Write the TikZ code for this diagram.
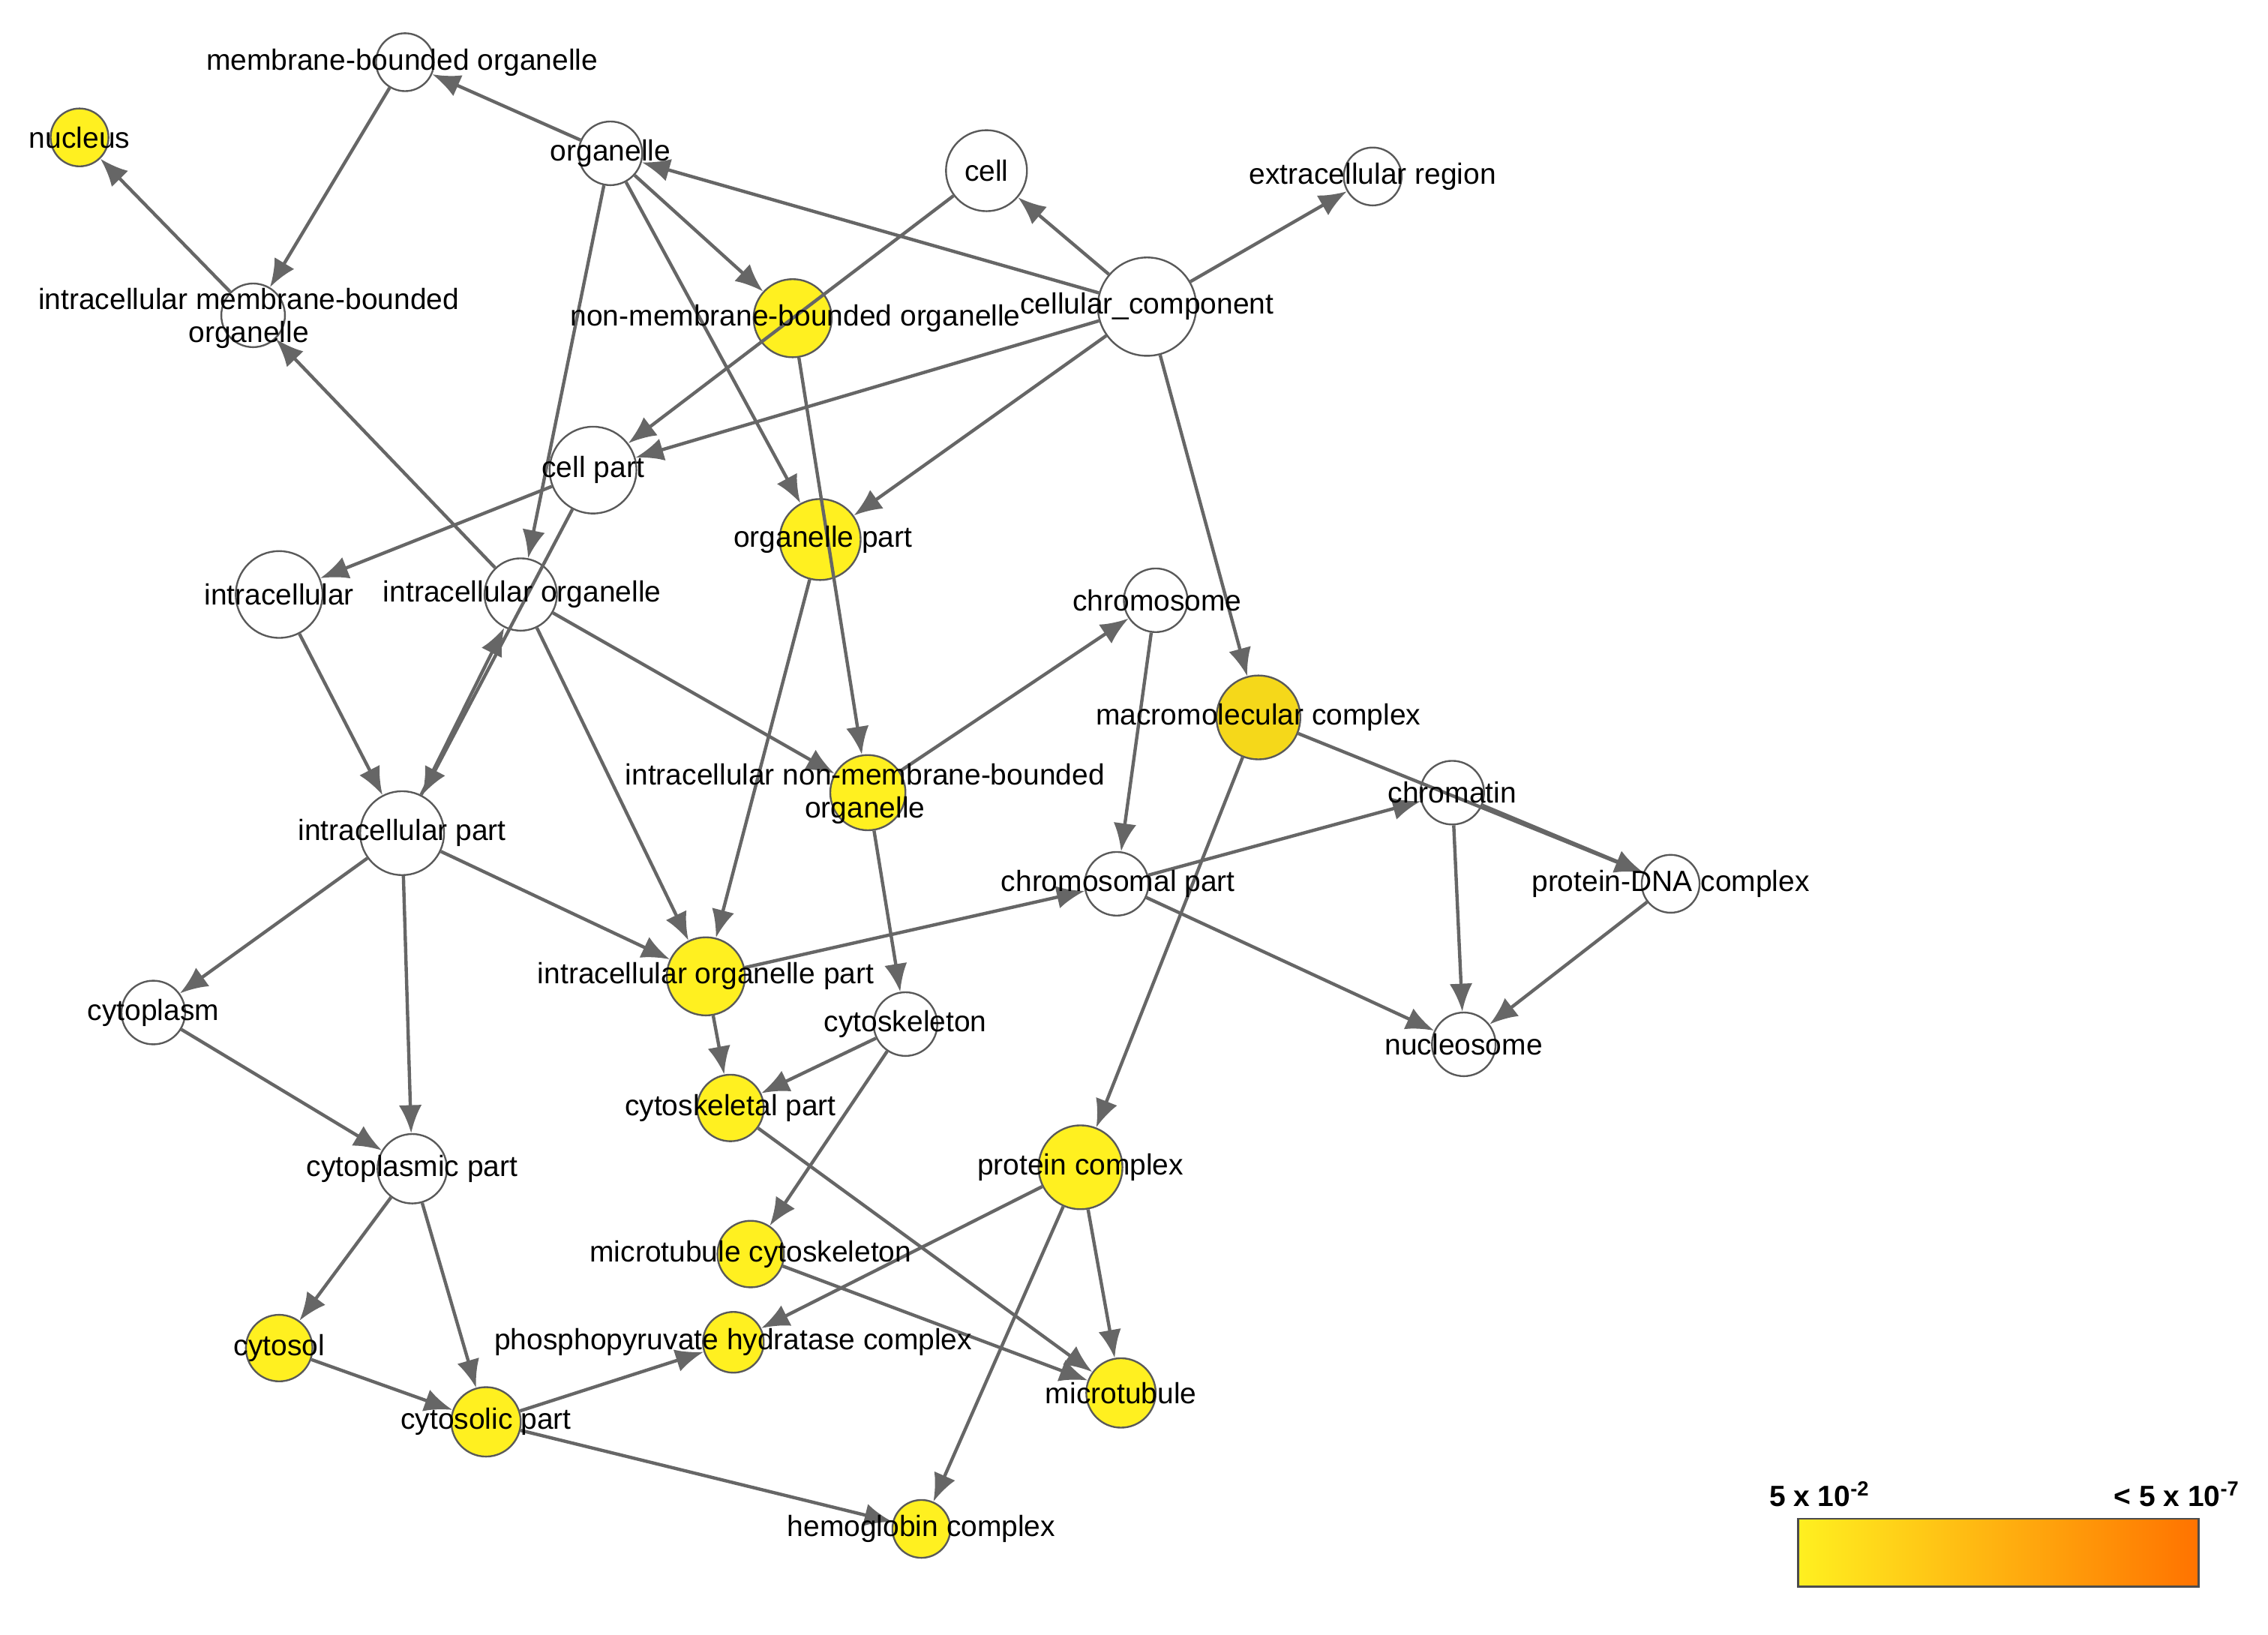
\documentclass[tikz,border=0pt]{standalone}
\usepackage{fontspec}
\setmainfont{Liberation Sans}
\usetikzlibrary{arrows.meta}
\definecolor{yel}{HTML}{FFF020}
\definecolor{yel2}{HTML}{F5D81A}
\definecolor{edg}{HTML}{666666}
\tikzset{
 cw/.style={circle,draw=black!65,line width=0.7pt,fill=white,inner sep=0pt},
 cy/.style={cw,fill=yel},
 lab/.style={font=\fontsize{11.5}{13}\selectfont,inner sep=0pt,align=center},
 e/.style={draw=edg,line width=1.3pt,-{Latex[length=11pt,width=9pt]}},
}
\newcommand{\cn}[5]{\node[#1,minimum size=#5*0.4mm] (#2) at (#3,#4) {};}
\begin{document}
\begin{tikzpicture}[x=0.2mm,y=-0.2mm]
\path[use as bounding box] (0,0) rectangle (1568,1130);
\cn{cw}{mbo}{280}{43}{20}
\cn{cy}{nuc}{55}{95}{20}
\cn{cw}{org}{422}{106}{22}
\cn{cw}{cell}{682}{118}{28}
\cn{cw}{ext}{949}{122}{20}
\cn{cw}{imbo}{175}{218}{22}
\cn{cy}{nmbo}{548}{220}{27}
\cn{cw}{cc}{793}{212}{34}
\cn{cw}{cp}{410}{325}{30}
\cn{cy}{op}{567}{373}{28}
\cn{cw}{ic}{193}{411}{30}
\cn{cw}{io}{360}{411}{25}
\cn{cw}{chr}{799}{415}{22}
\node[cw,fill=yel2,minimum size=11.6mm] (mac) at (870,496) {};
\cn{cy}{inmbo}{600}{548}{26}
\cn{cw}{chrm}{1004}{548}{22}
\cn{cw}{ip}{278}{576}{29}
\cn{cw}{chp}{772}{611}{22}
\cn{cw}{pdna}{1155}{611}{20}
\cn{cy}{iop}{488}{675}{27}
\cn{cw}{cyt}{106}{700}{22}
\cn{cw}{csk}{626}{708}{22}
\cn{cw}{nuco}{1012}{722}{22}
\cn{cy}{cskp}{505}{766}{23}
\cn{cy}{pc}{747}{807}{29}
\cn{cw}{cytp}{285}{808}{24}
\cn{cy}{mtc}{519}{867}{23}
\cn{cy}{cysl}{193}{932}{23}
\cn{cy}{phc}{507}{928}{21}
\cn{cy}{mt}{775}{963}{24}
\cn{cy}{cslp}{336}{983}{24}
\cn{cy}{hem}{637}{1057}{20}
% edges
\foreach \a/\b in {org/mbo,mbo/imbo,imbo/nuc,org/nmbo,org/op,org/io,cc/org,cc/cell,cc/ext,cc/cp,cc/op,cc/mac,
 cell/cp,nmbo/inmbo,io/imbo,cp/ic,cp/ip,ip/io,ic/ip,io/inmbo,io/iop,op/iop,inmbo/chr,inmbo/csk,
 ip/cyt,ip/cytp,ip/iop,chr/chp,iop/chp,chp/chrm,chp/nuco,mac/pdna,chrm/pdna,chrm/nuco,pdna/nuco,
 mac/pc,iop/cskp,csk/cskp,csk/mtc,cskp/mt,mtc/mt,pc/mt,pc/phc,pc/hem,cyt/cytp,cytp/cysl,cytp/cslp,
 cysl/cslp,cslp/phc,cslp/hem}
 \draw[e] (\a) -- (\b);
% labels
\node[lab] at (278,43) {membrane-bounded organelle};
\node[lab] at (55,95) {nucleus};
\node[lab] at (422,106) {organelle};
\node[lab] at (682,118) {cell};
\node[lab] at (949,122) {extracellular region};
\node[lab] at (172,220) {intracellular membrane-bounded\\organelle};
\node[lab] at (550,220) {non-membrane-bounded organelle};
\node[lab] at (793,212) {cellular\_component};
\node[lab] at (410,325) {cell part};
\node[lab] at (569,373) {organelle part};
\node[lab] at (193,411) {intracellular};
\node[lab] at (361,411) {intracellular organelle};
\node[lab] at (800,415) {chromosome};
\node[lab] at (870,496) {macromolecular complex};
\node[lab] at (598,549) {intracellular non-membrane-bounded\\organelle};
\node[lab] at (1004,548) {chromatin};
\node[lab] at (278,576) {intracellular part};
\node[lab] at (773,611) {chromosomal part};
\node[lab] at (1155,611) {protein-DNA complex};
\node[lab] at (488,675) {intracellular organelle part};
\node[lab] at (106,700) {cytoplasm};
\node[lab] at (626,708) {cytoskeleton};
\node[lab] at (1012,722) {nucleosome};
\node[lab] at (505,766) {cytoskeletal part};
\node[lab] at (747,807) {protein complex};
\node[lab] at (285,808) {cytoplasmic part};
\node[lab] at (519,867) {microtubule cytoskeleton};
\node[lab] at (193,932) {cytosol};
\node[lab] at (507,928) {phosphopyruvate hydratase complex};
\node[lab] at (775,963) {microtubule};
\node[lab] at (336,983) {cytosolic part};
\node[lab] at (637,1057) {hemoglobin complex};
% legend
\shade[left color=yel, right color=orange!90!red] (1243,1050) rectangle (1520,1097);
\draw[black!70,line width=0.8pt] (1243,1050) rectangle (1520,1097);
\node[lab,font=\bfseries\fontsize{11.5}{13}\selectfont] at (1258,1033) {5 x 10\textsuperscript{-2}};
\node[lab,font=\bfseries\fontsize{11.5}{13}\selectfont] at (1505,1033) {< 5 x 10\textsuperscript{-7}};
\end{tikzpicture}
\end{document}
